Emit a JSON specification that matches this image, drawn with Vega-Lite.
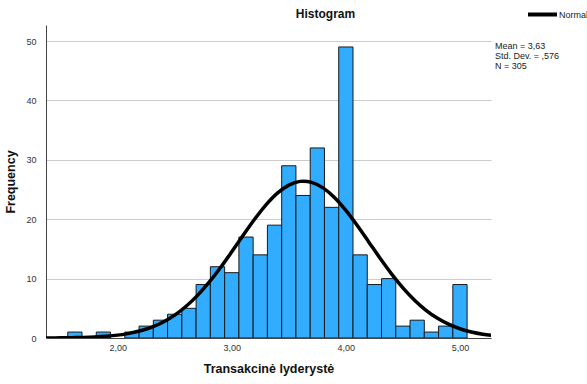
{
  "$schema": "https://vega.github.io/schema/vega-lite/v6.json",
  "width": 445,
  "height": 313,
  "autosize": "none",
  "padding": {"left": 46, "top": 25, "right": 96, "bottom": 46},
  "background": "white",
  "title": {"text": "Histogram", "dx": 57, "offset": -23, "fontSize": 12, "fontWeight": "bold", "font": "Liberation Sans", "color": "#111"},
  "datasets": {
    "bins": [
      {"start": 1.5625, "end": 1.6875, "count": 1},
      {"start": 1.8125, "end": 1.9375, "count": 1},
      {"start": 2.0625, "end": 2.1875, "count": 1},
      {"start": 2.1875, "end": 2.3125, "count": 2},
      {"start": 2.3125, "end": 2.4375, "count": 3},
      {"start": 2.4375, "end": 2.5625, "count": 4},
      {"start": 2.5625, "end": 2.6875, "count": 5},
      {"start": 2.6875, "end": 2.8125, "count": 9},
      {"start": 2.8125, "end": 2.9375, "count": 12},
      {"start": 2.9375, "end": 3.0625, "count": 11},
      {"start": 3.0625, "end": 3.1875, "count": 17},
      {"start": 3.1875, "end": 3.3125, "count": 14},
      {"start": 3.3125, "end": 3.4375, "count": 19},
      {"start": 3.4375, "end": 3.5625, "count": 29},
      {"start": 3.5625, "end": 3.6875, "count": 24},
      {"start": 3.6875, "end": 3.8125, "count": 32},
      {"start": 3.8125, "end": 3.9375, "count": 22},
      {"start": 3.9375, "end": 4.0625, "count": 49},
      {"start": 4.0625, "end": 4.1875, "count": 14},
      {"start": 4.1875, "end": 4.3125, "count": 9},
      {"start": 4.3125, "end": 4.4375, "count": 10},
      {"start": 4.4375, "end": 4.5625, "count": 2},
      {"start": 4.5625, "end": 4.6875, "count": 3},
      {"start": 4.6875, "end": 4.8125, "count": 1},
      {"start": 4.8125, "end": 4.9375, "count": 2},
      {"start": 4.9375, "end": 5.0625, "count": 9}
    ],
    "normal": [
      {"x": 1.3, "y": 0.0074}, {"x": 1.4, "y": 0.0147}, {"x": 1.5, "y": 0.0283}, {"x": 1.6, "y": 0.053},
      {"x": 1.7, "y": 0.0963}, {"x": 1.8, "y": 0.170}, {"x": 1.9, "y": 0.290}, {"x": 2.0, "y": 0.482},
      {"x": 2.1, "y": 0.776}, {"x": 2.2, "y": 1.212}, {"x": 2.3, "y": 1.836}, {"x": 2.4, "y": 2.701},
      {"x": 2.5, "y": 3.855}, {"x": 2.6, "y": 5.338}, {"x": 2.7, "y": 7.171}, {"x": 2.8, "y": 9.351},
      {"x": 2.9, "y": 11.828}, {"x": 3.0, "y": 14.518}, {"x": 3.1, "y": 17.292}, {"x": 3.2, "y": 19.984},
      {"x": 3.3, "y": 22.409}, {"x": 3.4, "y": 24.383}, {"x": 3.5, "y": 25.742}, {"x": 3.6, "y": 26.370},
      {"x": 3.63, "y": 26.406}, {"x": 3.7, "y": 26.212}, {"x": 3.8, "y": 25.281}, {"x": 3.9, "y": 23.659},
      {"x": 4.0, "y": 21.483}, {"x": 4.1, "y": 18.929}, {"x": 4.2, "y": 16.184}, {"x": 4.3, "y": 13.425},
      {"x": 4.4, "y": 10.805}, {"x": 4.5, "y": 8.439}, {"x": 4.6, "y": 6.396}, {"x": 4.7, "y": 4.703},
      {"x": 4.8, "y": 3.355}, {"x": 4.9, "y": 2.323}, {"x": 5.0, "y": 1.561}, {"x": 5.1, "y": 1.017},
      {"x": 5.2, "y": 0.644}, {"x": 5.3, "y": 0.395}
    ],
    "stats": [
      {"stat": "Mean = 3,63"},
      {"stat": "Std. Dev. = ,576"},
      {"stat": "N = 305"}
    ]
  },
  "layer": [
    {
      "data": {"name": "bins"},
      "mark": {"type": "bar", "fill": "#31acff", "stroke": "#1a1a1a", "strokeWidth": 1, "clip": true},
      "encoding": {
        "x": {"field": "start", "type": "quantitative",
              "scale": {"domain": [1.372, 5.272], "nice": false, "zero": false},
              "axis": {"title": "Transakcinė lyderystė", "values": [2, 3, 4, 5], "grid": false,
                       "labelExpr": "replace(format(datum.value, '.2f'), '.', ',')"}},
        "x2": {"field": "end"},
        "y": {"field": "count", "type": "quantitative",
              "scale": {"domain": [0, 52.7], "nice": false},
              "axis": {"title": "Frequency", "values": [0, 10, 20, 30, 40, 50], "grid": true}},
        "y2": {"datum": 0}
      }
    },
    {
      "data": {"name": "normal"},
      "mark": {"type": "line", "strokeWidth": 3.5, "interpolate": "monotone", "clip": true},
      "encoding": {
        "x": {"field": "x", "type": "quantitative"},
        "y": {"field": "y", "type": "quantitative"},
        "stroke": {"datum": "Normal", "type": "nominal",
                   "scale": {"range": ["#000000"]},
                   "legend": {"orient": "none", "legendX": 480, "legendY": -27, "title": null,
                              "symbolType": "stroke", "symbolSize": 841, "symbolStrokeWidth": 4,
                              "labelFontSize": 9, "labelOffset": 0, "padding": 0, "labelColor": "#222",
                              "labelFont": "Liberation Sans"}}
      }
    },
    {
      "data": {"name": "stats"},
      "mark": {"type": "point", "opacity": 0},
      "encoding": {
        "shape": {"field": "stat", "type": "nominal", "sort": null,
                  "legend": {"orient": "none", "legendX": 440, "legendY": 16, "title": null,
                             "symbolSize": 0, "symbolOpacity": 0, "symbolStrokeWidth": 0,
                             "labelOffset": 0, "labelFontSize": 9, "rowPadding": -2, "padding": 0,
                             "labelColor": "#222", "labelFont": "Liberation Sans"}}
      }
    }
  ],
  "config": {
    "view": {"stroke": null},
    "font": "Liberation Sans",
    "axis": {
      "domainColor": "#444", "domainWidth": 1, "ticks": false, "tickSize": 0,
      "labelFontSize": 9, "labelColor": "#333", "labelFont": "Liberation Sans",
      "titleFontSize": 12.5, "titleFontWeight": "bold", "titleColor": "#111", "titleFont": "Liberation Sans",
      "gridColor": "#cccccc", "gridWidth": 1
    },
    "axisY": {"labelPadding": 10, "titlePadding": 8},
    "axisX": {"labelPadding": 5, "titlePadding": 10}
  }
}
